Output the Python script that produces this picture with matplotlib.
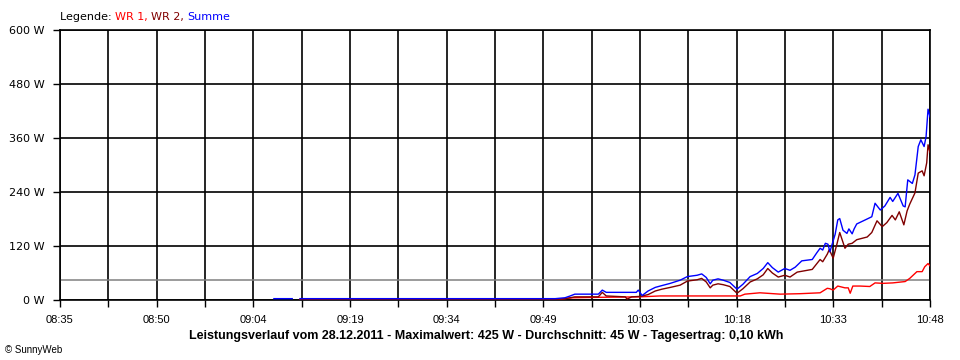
import numpy as np
import matplotlib
matplotlib.use("Agg")
import matplotlib.pyplot as plt

# time axis in minutes after 08:35 (axis runs 08:35 .. 10:48)
t_start, t_end = 0.0, 133.0
x_labels = ['08:35', '08:50', '09:04', '09:19', '09:34', '09:49', '10:03', '10:18', '10:33', '10:48']
y_ticks = [0, 120, 240, 360, 480, 600]
average_w = 45

# Summe (blue)
sum_min = [32.7, 35.5, np.nan, 36.7, 75.7, 77.2, 78.0, 78.7, 82.3, 82.9, 83.5, 88.1, 88.4, 89.0,
           89.9, 91.0, 92.0, 93.3, 94.8, 95.9, 97.4, 98.1, 98.8, 99.4, 99.8, 100.6, 101.4,
           102.4, 103.5, 104.4, 105.5, 106.6, 107.5, 108.2, 108.9, 109.8, 110.8, 111.6, 112.4,
           113.4, 115.0, 115.7, 116.2, 116.6, 117.0, 117.4, 117.7, 118.0, 118.5, 118.9, 119.2,
           119.7, 120.3, 120.6, 121.1, 121.4, 121.8, 123.1, 124.1, 124.6, 125.4, 126.1, 126.9,
           127.3, 128.1, 128.9, 129.2, 129.6, 130.3, 130.7, 131.2, 131.6, 132.1, 132.4, 132.7, 133.0]
sum_w = [3, 3, np.nan, 3, 3, 5, 9, 13, 13, 22, 17, 17, 22, 10,
         20, 28, 32, 37, 44, 52, 55, 58, 50, 36, 44, 47, 44,
         39, 24, 35, 52, 59, 70, 83, 72, 62, 70, 66, 73,
         87, 90, 105, 115, 111, 126, 124, 107, 122, 146, 178, 181,
         155, 148, 158, 147, 158, 169, 178, 185, 215, 200, 209, 228,
         219, 237, 209, 207, 267, 259, 278, 341, 356, 341, 363, 424, 407]

# WR 2 (dark red)
wr2_min = [36.7, 75.7, 77.2, 78.0, 78.7, 82.3, 82.9, 83.5, 86.4, 86.7, 87.4, 88.7, 89.9, 91.0,
           92.0, 93.3, 94.8, 95.9, 97.4, 98.1, 98.8, 99.4, 99.8, 100.6, 101.4, 102.4, 103.5,
           104.4, 105.5, 106.6, 107.5, 108.2, 108.9, 109.8, 110.8, 111.6, 112.7, 115.0, 116.2,
           116.6, 117.3, 117.6, 118.2, 118.8, 119.2, 120.0, 120.5, 121.1, 121.8, 122.6, 123.4,
           124.1, 124.9, 125.7, 126.4, 127.2, 127.7, 128.3, 129.0, 129.5, 129.9, 130.7, 131.2,
           131.8, 132.1, 132.5, 132.7, 133.0]
wr2_w = [1, 1, 3, 5, 7, 7, 17, 9, 7, 2, 7, 8, 12, 20,
         24, 28, 33, 42, 45, 48, 40, 27, 33, 36, 34, 30, 15,
         25, 40, 47, 56, 70, 60, 51, 55, 51, 62, 68, 90,
         85, 102, 112, 93, 126, 150, 115, 124, 126, 134, 137, 140,
         150, 176, 163, 172, 188, 178, 196, 167, 198, 213, 238, 282,
         287, 276, 305, 345, 328]

# WR 1 (red)
wr1_min = [36.7, 43.6, 75.7, 77.2, 78.4, 82.6, 88.7, 91.7, 97.8, 104.0, 104.7, 107.0, 110.1,
           113.1, 116.2, 117.3, 117.7, 118.2, 118.9, 120.0, 120.5, 120.8, 121.2, 122.3, 123.8,
           124.6, 125.8, 127.3, 129.2, 129.9, 131.0, 131.8, 132.2, 132.7, 133.0]
wr1_w = [2, 2, 1, 3, 5, 6, 7, 9, 9, 9, 13, 16, 13,
         14, 16, 26, 25, 22, 31, 27, 27, 15, 31, 31, 30,
         38, 37, 38, 41, 48, 63, 63, 74, 81, 76]

narrow = ['Liberation Sans', 'DejaVu Sans']

fig = plt.figure(figsize=(9.6, 3.6), dpi=100)
ax = fig.add_axes([60 / 960, 60 / 360, 870 / 960, 270 / 360])

ax.axhline(average_w, color='#808080', lw=1.1, zorder=2)
ax.plot(wr1_min, wr1_w, color='#ff0000', lw=1.0, zorder=3)
ax.plot(wr2_min, wr2_w, color='#800000', lw=1.0, zorder=3)
ax.plot(sum_min, sum_w, color='#0000ff', lw=1.0, zorder=4)

ax.set_xlim(t_start, t_end)
ax.set_ylim(0, 600)
ax.set_xticks(np.linspace(t_start, t_end, len(x_labels)))
ax.set_xticklabels(x_labels, family=narrow, fontsize=8)
ax.set_xticks(np.linspace(t_start, t_end, 19), minor=True)
ax.set_yticks(y_ticks)
ax.set_yticklabels([f'{v} W' for v in y_ticks], fontsize=8)
ax.tick_params(axis='both', which='both', direction='out', length=5, width=1, color='black', pad=6)
ax.grid(True, which='both', axis='x', color='black', lw=1.2, zorder=1)
ax.grid(True, which='major', axis='y', color='black', lw=1.2, zorder=1)
for s in ax.spines.values():
    s.set_color('black')
    s.set_linewidth(1.2)

# legend line with coloured words
fig.canvas.draw()
renderer = fig.canvas.get_renderer()
x = 60
for txt, col in [('Legende: ', 'black'), ('WR 1, ', '#ff0000'), ('WR 2, ', '#800000'), ('Summe', '#0000ff')]:
    t = fig.text(x / 960, 1 - 17 / 360, txt, color=col, fontsize=8, va='center', ha='left')
    bb = t.get_window_extent(renderer)
    x += bb.width

fig.text(486 / 960, 1 - 336 / 360,
         'Leistungsverlauf vom 28.12.2011 - Maximalwert: 425 W - Durchschnitt: 45 W - Tagesertrag: 0,10 kWh',
         ha='center', va='center', fontsize=9, fontweight='bold', family=narrow)
fig.text(5 / 960, 1 - 350 / 360, '\u00a9 SunnyWeb', ha='left', va='center', fontsize=7, family=narrow)

fig.savefig('out.png', dpi=100)
